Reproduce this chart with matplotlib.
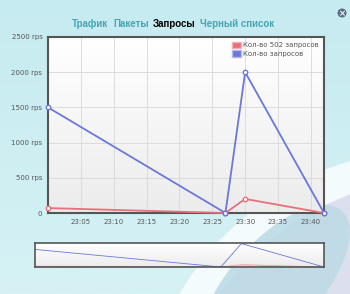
import matplotlib.pyplot as plt
from matplotlib.patches import Ellipse, Circle, Rectangle
from matplotlib.colors import LinearSegmentedColormap
from matplotlib.ticker import FixedLocator, FuncFormatter
import numpy as np

# data
times = ["23:00", "23:27", "23:30", "23:42"]
req_502 = [70, 0, 200, 0]
req_all = [1500, 0, 2000, 0]
tick_times = ["23:05", "23:10", "23:15", "23:20", "23:25", "23:30", "23:35", "23:40"]
y_ticks = [0, 500, 1000, 1500, 2000, 2500]
tabs = ["Трафик", "Пакеты", "Запросы", "Черный список"]


def to_min(s):
    h, m = s.split(":")
    return int(h) * 60 + int(m)


x = [to_min(t) for t in times]
xt = [to_min(t) for t in tick_times]

red = "#e8707c"
blue = "#6a78d8"

fig = plt.figure(figsize=(3.5, 2.94), dpi=100)
fig.patch.set_facecolor("#cfeef3")

# background decoration (pixel coords)
bg = fig.add_axes([0, 0, 1, 1], zorder=0)
bg.set_xlim(0, 350)
bg.set_ylim(294, 0)
bg.axis("off")
bg.imshow(np.linspace(0, 1, 100).reshape(-1, 1), extent=[0, 350, 294, 0],
          cmap=LinearSegmentedColormap.from_list("bg", ["#c6ebf0", "#d6f2f5"]), aspect="auto")
white = Circle((430, 440), 290, color="#f4fbfc", lw=0)
bg.add_patch(white)
bg.add_patch(Circle((455, 470), 295, color="#dce0ee", lw=0))
sw = Ellipse((275, 285), 200, 90, angle=-48, color="#bddbe6", lw=0, alpha=0.9)
bg.add_patch(sw)
sw.set_clip_path(white)
bg.add_patch(Circle((342, 13), 4.5, color="#5a6e86", lw=0))
bg.text(342, 13.3, "×", ha="center", va="center", fontsize=6, color="white", fontweight="bold")

# tabs
xpos = [72, 113, 153, 200]
for t, xp in zip(tabs, xpos):
    bg.text(xp, 24, t, ha="left", va="center", fontsize=7, fontweight="bold",
            family="Liberation Sans",
            color="black" if t == "Запросы" else "#45a6b4")

# main chart
ax = fig.add_axes([48 / 350, 81 / 294, 276 / 350, 176 / 294], zorder=2)
ax.imshow(np.linspace(1, 0, 100).reshape(-1, 1), extent=[0, 1, 0, 1], transform=ax.transAxes,
          cmap=LinearSegmentedColormap.from_list("pl", ["#ececec", "#ffffff"]),
          aspect="auto", zorder=0)
ax.plot(x, req_502, color=red, lw=1.3, marker="o", ms=3.2, mfc="white", mec=red, mew=1,
        zorder=3, clip_on=False)
ax.plot(x, req_all, color=blue, lw=1.3, marker="o", ms=3.2, mfc="white", mec=blue, mew=1,
        zorder=4, clip_on=False)
ax.set_xlim(to_min("23:00"), to_min("23:42"))
ax.set_ylim(0, 2500)
ax.xaxis.set_major_locator(FixedLocator(xt))
ax.xaxis.set_major_formatter(FuncFormatter(lambda v, p: "%d:%02d" % (v // 60, v % 60)))
ax.set_yticks(y_ticks)
ax.set_yticklabels(["0" if v == 0 else "%d rps" % v for v in y_ticks])
ax.grid(True, color="#d8d8d8", lw=0.6)
ax.set_axisbelow(True)
ax.tick_params(length=0, labelsize=5, colors="#555555", pad=4)
for s in ax.spines.values():
    s.set_color("#555555")
    s.set_linewidth(1.5)
leg = ax.legend(handles=[Rectangle((0, 0), 1, 1, fc=red, ec="#f4b0b8"),
                         Rectangle((0, 0), 1, 1, fc=blue, ec="#b0b8f0")],
                labels=["Кол-во 502 запросов", "Кол-во запросов"],
                loc="upper right", fontsize=5, frameon=False, handlelength=1.3, handleheight=1.0,
                borderaxespad=0.3, labelspacing=0.3, handletextpad=0.4)
for txt in leg.get_texts():
    txt.set_color("#555555")

# navigator
nav = fig.add_axes([35 / 350, 27 / 294, 289 / 350, 24 / 294], zorder=2)
nav.imshow(np.linspace(1, 0, 50).reshape(-1, 1), extent=[0, 1, 0, 1], transform=nav.transAxes,
           cmap=LinearSegmentedColormap.from_list("nv", ["#ececec", "#ffffff"]),
           aspect="auto", zorder=0)
nav.fill_between(x, req_502, color="#f2c4c8", lw=0)
nav.plot(x, req_502, color=red, lw=0.6, alpha=0.6)
nav.plot(x, req_all, color=blue, lw=0.6)
nav.set_xlim(to_min("23:00"), to_min("23:42"))
nav.set_ylim(0, 2050)
nav.set_xticks([])
nav.set_yticks([])
for s in nav.spines.values():
    s.set_color("#555555")
    s.set_linewidth(1.2)

fig.savefig("out.png", dpi=100)
